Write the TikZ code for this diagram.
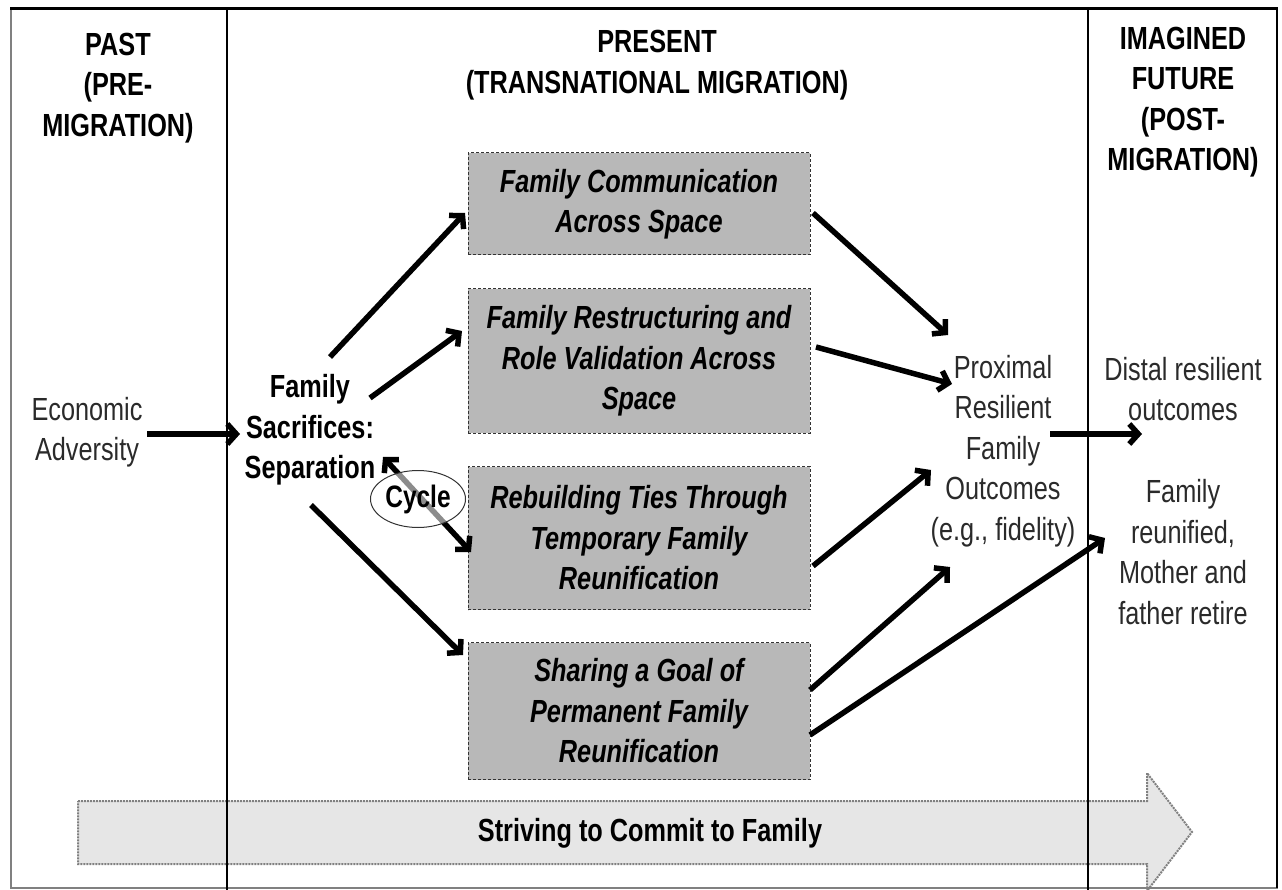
\documentclass[tikz,border=0pt]{standalone}
\usepackage{fontspec}
\setmainfont{Liberation Sans}[FakeStretch=0.79]
\usetikzlibrary{arrows.meta,shapes.geometric}
\definecolor{boxgray}{HTML}{B8B8B8}
\definecolor{arrowgray}{HTML}{E6E6E6}
\definecolor{txtgray}{HTML}{2A2A2A}
\tikzset{barb/.tip={Straight Barb[length=9pt,width=20pt,line width=5.5pt]}}
\begin{document}
\begin{tikzpicture}[x=1pt,y=-1pt,
  every node/.style={inner sep=0pt,align=center,font=\fontsize{32}{40.5}\selectfont},
  hdr/.style={font=\fontsize{32}{40.5}\selectfont\bfseries},
  plain/.style={text=txtgray},
  stagebox/.style={draw=black!80,densely dashed,line width=1pt,fill=boxgray,minimum width=342pt,
     font=\fontsize{32}{40.5}\selectfont\bfseries\itshape},
  conn/.style={line width=5.5pt,-barb},
  frame/.style={line width=2pt,black}]
\useasboundingbox (0,0) rectangle (1282,890);
% big background arrow
\draw[fill=arrowgray,draw=gray,densely dotted,line width=2pt]
  (78,801) -- (1147,801) -- (1147,773) -- (1192,832) -- (1147,891) -- (1147,864) -- (78,864) -- cycle;
\node[hdr] (strive) at (650,833) {Striving to Commit to Family};
% frame
\draw[gray,line width=1.5pt] (11,9) -- (11,888) -- (1277,888) -- (1277,9);
\draw[frame,line width=3pt] (10,9) -- (1278,9);
\draw[frame] (227,9) -- (227,890);
\draw[frame] (1088,9) -- (1088,890);
\draw[frame] (1277,9) -- (1277,888);
% headers
\node[hdr] (past) at (118,88) {PAST\\(PRE-\\MIGRATION)};
\node[hdr] (present) at (657,65) {PRESENT\\(TRANSNATIONAL MIGRATION)};
\node[hdr] (future) at (1183,102) {IMAGINED\\FUTURE\\(POST-\\MIGRATION)};
% boxes
\node[stagebox,minimum height=102pt] (b1) at (639,204) {Family Communication\\Across Space};
\node[stagebox,minimum height=144pt] (b2) at (639,361) {Family Restructuring and\\Role Validation Across\\Space};
\node[stagebox,minimum height=143pt] (b3) at (639,538) {Rebuilding Ties Through\\Temporary Family\\Reunification};
\node[stagebox,minimum height=137pt] (b4) at (639,711) {Sharing a Goal of\\Permanent Family\\Reunification};
% texts
\node[plain] (econ) at (87,432) {Economic\\Adversity};
\node[hdr] (fam) at (310,430) {Family\\Sacrifices:\\Separation};
\node[plain] (prox) at (1003,451) {Proximal\\Resilient\\Family\\Outcomes\\(e.g., fidelity)};
\node[plain] (distal) at (1183,389) {Distal resilient\\outcomes};
\node[plain] (reun) at (1183,552) {Family\\reunified,\\Mother and\\father retire};
% connector end points
\coordinate (e1) at (147,434); \coordinate (e2) at (240,434);
\coordinate (f1) at (330,357); \coordinate (f1e) at (465,213);
\coordinate (f2) at (370,398); \coordinate (f2e) at (462,331);
\coordinate (c1) at (383,457); \coordinate (c2) at (471,552);
\coordinate (f4) at (311,505); \coordinate (f4e) at (463,655);
\coordinate (o1) at (813,213); \coordinate (p1) at (948,335);
\coordinate (o2) at (816,347); \coordinate (p2) at (952,384);
\coordinate (o3) at (813,566); \coordinate (p3) at (931,470);
\coordinate (o4) at (810,690); \coordinate (p4) at (950,567);
\coordinate (o5) at (810,735); \coordinate (p5) at (1105,538);
\coordinate (q1) at (1050,434); \coordinate (q2) at (1142,434);
% connectors
\draw[conn] (e1) -- (e2);
\draw[conn] (f1) -- (f1e);
\draw[conn] (f2) -- (f2e);
\draw[conn,barb-barb] (c1) -- (c2);
\draw[conn] (f4) -- (f4e);
\draw[conn] (o1) -- (p1);
\draw[conn] (o2) -- (p2);
\draw[conn] (o3) -- (p3);
\draw[conn] (o4) -- (p4);
\draw[conn] (o5) -- (p5);
\draw[conn] (q1) -- (q2);
% cycle ellipse
\node[ellipse,draw=black!80,line width=1pt,fill=white,fill opacity=0.55,text opacity=1,
  minimum width=95pt,minimum height=57pt,font=\fontsize{31}{36}\selectfont\bfseries] (cyc) at (418,499) {Cycle};
\end{tikzpicture}
\end{document}
